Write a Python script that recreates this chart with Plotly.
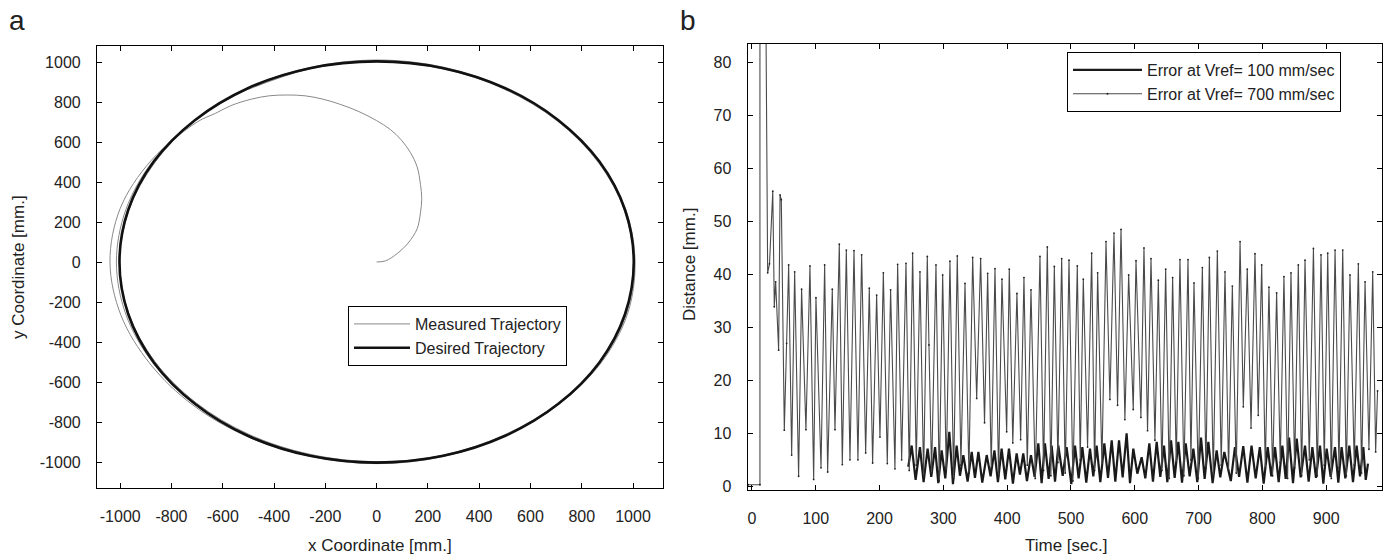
import plotly.graph_objects as go

# ---------------- Panel a data (mm) ----------------
desired_x = [1003, 969, 869, 709, 502, 260, 0, -260, -502, -709, -869, -969, -1003,
             -969, -869, -709, -502, -260, 0, 260, 502, 709, 869, 969, 1003]
desired_y = [0, 260, 502, 709, 869, 969, 1003, 969, 869, 709, 502, 260, 0,
             -260, -502, -709, -869, -969, -1003, -969, -869, -709, -502, -260, 0]

measured_x = [0, 35, 80, 123, 158, 171, 176, 171, 158, 132, 97, 53, 0, -69, -139, -209, -279, -349,
              -419, -489, -568, -629, -700,
              -879, -1000, -1040, -997, -883, -716, -504, -260, 0, 261, 502, 711, 875, 978, 1008,
              972, 869, 709, 503, 261, 0, -261, -502, -709,
              -873, -978, -1015, -978, -873, -710, -500, -258, 0, 260, 500, 708, 871, 974, 1005,
              969, 866, 706, 500, 260, 0, -260, -500, -707,
              -864, -966, -1002, -966, -864, -704, -498, -258, 0, 259, 499, 707, 869, 970, 1002,
              966, 864, 705, 499, 259, 0, -259, -499]
measured_y = [0, 6, 42, 95, 166, 246, 317, 388, 476, 547, 609, 663, 707, 752, 787, 814, 831, 835,
              831, 814, 782, 743, 700,
              508, 268, 0, -267, -510, -716, -873, -971, -1008, -972, -869, -711, -505, -262, 0,
              261, 502, 709, 870, 974, 1010, 972, 869, 709,
              504, 262, 0, -262, -504, -710, -866, -964, -1000, -968, -866, -708, -503, -261, 0,
              260, 500, 706, 866, 969, 1005, 968, 866, 707,
              499, 259, 0, -259, -499, -704, -862, -962, -998, -966, -864, -707, -502, -260, 0,
              259, 499, 705, 864, 966, 1002, 966, 864]

a_ticks = [-1000, -800, -600, -400, -200, 0, 200, 400, 600, 800, 1000]
a_ticktext = ["-1000", "-800", "-600", "-400", "-200", "0", "200", "400", "600", "800", "1000"]

# ---------------- Panel b data ----------------
t700 = [-6, 12.5, 12.5, 21.5, 24.6, 27.5, 32.6, 35, 37.1, 41.8, 44, 46, 50.7, 54.3, 57.5, 62.2, 66.9,
        73.1, 77.8, 84.6, 90.9, 96.7, 100.3, 108.2, 113.9, 118.6, 125.9, 130.1, 136.9, 141.6, 147.9,
        153.6, 159.9, 166.1, 171.9, 178.2, 183.9, 189.1, 195.4, 200.6, 205.9, 212.1, 217.3, 224.1,
        228.3, 234.6, 241.4, 246.5, 251.8, 257.5, 263.3, 269, 274.8, 277.4, 281.5, 288.4, 293.5,
        298.9, 304.5, 310.3, 316, 321.8, 327.5, 333.9, 340, 345.9, 352.2, 358.4, 364.5, 369.4, 375,
        380.9, 386.5, 391.8, 399.2, 403.3, 408.8, 415.3, 421.1, 426.3, 431.5, 437.3, 444, 451.4, 457,
        462.9, 468.5, 473.9, 479.5, 485.4, 491, 496.9, 503, 509.9, 514.5, 519.3, 526, 532.4, 537,
        541.8, 548.5, 554.9, 561, 567.4, 573, 578.4, 584.5, 590.4, 597.6, 601.9, 609.6, 614.4, 620,
        625.4, 631.6, 636.9, 642.5, 648.4, 654, 659.3, 665, 670.8, 677, 683.4, 688, 692.8, 699.5,
        705.9, 711.5, 716.9, 723, 729.4, 735.5, 741.4, 747, 752.9, 759, 765.0, 770.1, 776.3, 782.2,
        788.4, 793.5, 798.9, 804.5, 810.3, 816, 822.3, 828, 833.8, 839.5, 844.8, 850.5, 856.3, 861.5,
        866.8, 873.5, 880.0, 886, 891.9, 897, 902.4, 908, 913.9, 920, 925.9, 931.5, 937.3, 944, 950.4,
        955.5, 960.9, 967, 972.9, 977.5, 980.5]
v700 = [0.3, 0.3, 95, 95, 40.3, 42, 55.7, 33.9, 38.6, 25.7, 55, 54.1, 10.6, 27, 41.8, 5.9, 40.5,
        1.9, 37.2, 10.7, 41.6, 1.3, 35.6, 3.5, 41.8, 2.7, 37.2, 10.7, 45.7, 4.1, 44.6,
        5.0, 44.5, 5.0, 43.7, 6.3, 37.4, 4.4, 36.1, 9.3, 40.3, 4.3, 37.1, 3.3,
        41.9, 5.0, 42.1, 3.0, 44.0, 4.0, 40.5, 2.0, 43.4, 26.7, 2.5, 41.8, 1.0,
        39.9, 3.0, 42.5, 1.5, 43.5, 4.0, 38.3, 2.5, 43.2, 16.6, 43.0, 12.0, 40.2, 3.5,
        41.1, 2.0, 39.1, 10.3, 41.0, 8.2, 36.4, 8.8, 39.4, 4.0, 37.1, 1.5, 43.4, 3.0,
        45.2, 2.0, 41.5, 4.5, 43.0, 2.5, 42.7, 1.0, 41.6, 5.0, 39.1, 7.4, 44.0, 3.0,
        40.3, 4.0, 46.2, 16.4, 47.8, 15.3, 48.5, 12.6, 39.9, 14.5, 42.6, 13.0, 45.0, 10.5,
        43.0, 8.7, 38.9, 3.0, 41.0, 1.5, 39.4, 4.5, 42.8, 2.0, 42.8, 5.0, 38.4, 1.5,
        41.3, 3.5, 43.2, 2.0, 44.4, 4.0, 40.5, 3.0, 37.8, 2.5, 46.2, 15.0, 41.0, 11.0,
        43.9, 13.4, 41.8, 3.5, 37.6, 2.0, 36.5, 4.5, 39.6, 1.5, 40.3, 3.5, 41.8, 2.0,
        42.7, 5.0, 44.9, 2.0, 43.7, 4.0, 44.0, 1.5, 44.6, 3.5, 44.6, 2.0, 39.9, 4.0, 42.0,
        2.5, 38.6, 7.0, 40.5, 6.5, 18.0]

t100 = [245, 250.3, 256.5, 263.3, 269, 275.3, 281, 287, 292, 297.3, 303, 309.3, 315, 320.8, 326,
        331.3, 338, 344.4, 349.5, 354.9, 361, 367.9, 374, 380, 385.5, 391.3, 397, 402.8, 409, 414.8,
        420, 425.2, 431, 437.3, 443, 448.8, 454, 459.2, 465, 469.7, 475, 480.1, 487, 493.2, 500.5,
        506.3, 512, 517.8, 524, 529.8, 535, 540.2, 546, 552.3, 558, 563.8, 569.5, 575.3, 581, 587.2,
        592.5, 597.7, 604, 610.8, 616.5, 622.8, 628.5, 634.3, 640, 645.8, 651, 656.8, 662.5, 668.3,
        674, 679.8, 686, 691.8, 698, 703.8, 709.5, 715.3, 722, 728.3, 734, 740.3, 750.5, 757, 763.5,
        770, 776.5, 783, 789.5, 796, 802, 808.3, 814, 819.8, 825.5, 831.3, 836.5, 841.8, 848, 853.8,
        860, 866.8, 872.5, 878.3, 884, 890.3, 895.5, 900.7, 907, 913.8, 919, 924.2, 930, 936.2, 942,
        947.7, 953, 958.2, 962, 965.5]
v100 = [3.7, 7.7, 1.2, 7.4, 0.8, 7.1, 1.8, 7.4, 0.6, 6.8, 1.5, 10.3, 0.4, 7.7, 2.0,
        5.9, 0.9, 6.5, 1.6, 6.5, 0.7, 5.9, 1.9, 6.8, 0.8, 7.1, 1.3, 7.1, 0.5, 6.2,
        2.2, 6.2, 1.0, 5.9, 1.8, 8.1, 0.6, 8.1, 1.4, 7.7, 0.9, 7.7, 2.0, 7.4, 0.4,
        7.7, 1.5, 7.4, 0.7, 7.1, 1.9, 7.7, 0.8, 8.1, 1.6, 8.7, 0.9, 8.7, 1.7, 10.0,
        0.6, 7.1, 2.4, 5.5, 1.5, 8.1, 0.9, 8.4, 1.8, 7.7, 0.8, 8.7, 1.6, 8.4,
        0.7, 8.1, 1.9, 7.1, 0.8, 9.2, 1.4, 8.4, 0.6, 6.8, 1.7, 6.5, 1.0, 7.4, 1.8,
        7.6, 0.7, 7.7, 1.5, 7.4, 0.5, 7.4, 1.9, 7.4, 0.8, 7.7, 1.4, 9.2, 0.6, 9.0,
        1.7, 7.7, 0.9, 7.4, 1.6, 7.7, 0.5, 7.1, 1.8, 7.4, 0.7, 7.4, 1.5, 7.7, 0.8,
        7.7, 1.9, 7.4, 1.2, 4.3]

b_xticks = [0, 100, 200, 300, 400, 500, 600, 700, 800, 900]
b_yticks = [0, 10, 20, 30, 40, 50, 60, 70, 80]

FONT = "Liberation Sans, Arial, sans-serif"
W, H = 1392, 559

fig = go.Figure()

fig.add_trace(go.Scatter(x=measured_x, y=measured_y, mode="lines", name="Measured Trajectory",
                         line=dict(color="#8a8a8a", width=1, shape="spline"),
                         xaxis="x", yaxis="y", legend="legend"))
fig.add_trace(go.Scatter(x=desired_x, y=desired_y, mode="lines", name="Desired Trajectory",
                         line=dict(color="#111111", width=2.6, shape="spline"),
                         xaxis="x", yaxis="y", legend="legend"))

fig.add_trace(go.Scatter(x=t100, y=v100, mode="lines", name="Error at Vref= 100 mm/sec",
                         line=dict(color="#1a1a1a", width=2.2),
                         xaxis="x2", yaxis="y2", legend="legend2"))
fig.add_trace(go.Scatter(x=t700, y=v700, mode="lines+markers", name="Error at Vref= 700 mm/sec",
                         line=dict(color="#4a4a4a", width=1.1),
                         marker=dict(size=1.8, color="#222222"),
                         xaxis="x2", yaxis="y2", legend="legend2"))

axis_common = dict(showline=True, linecolor="black", linewidth=1, mirror="ticks",
                   ticks="inside", ticklen=5, tickcolor="black", tickwidth=1,
                   showgrid=False, zeroline=False, automargin=False,
                   tickfont=dict(family=FONT, size=16, color="#222222"))

fig.update_layout(
    template="none",
    width=W, height=H, margin=dict(l=0, r=0, t=0, b=0, autoexpand=False),
    paper_bgcolor="white", plot_bgcolor="white",
    font=dict(family=FONT, color="#222222"),
    xaxis=dict(domain=[96.9 / W, 663 / W], range=[-1091, 1117], anchor="y",
               tickmode="array", tickvals=a_ticks, ticktext=a_ticktext,
               ticklabelstandoff=14, **axis_common),
    yaxis=dict(domain=[(H - 488) / H, (H - 46) / H], range=[-1130, 1080], anchor="x",
               tickmode="array", tickvals=a_ticks, ticktext=a_ticktext,
               ticklabelstandoff=12, **axis_common),
    xaxis2=dict(domain=[747.5 / W, 1381.7 / W], range=[-7, 987], anchor="y2",
                tickmode="array", tickvals=b_xticks,
                ticklabelstandoff=14, **axis_common),
    yaxis2=dict(domain=[(H - 489.5) / H, (H - 44) / H], range=[-0.6, 83.5], anchor="x2",
                tickmode="array", tickvals=b_yticks,
                ticklabelstandoff=12, **axis_common),
    legend=dict(x=348 / W, y=(H - 306) / H, xanchor="left", yanchor="top",
                bgcolor="white", bordercolor="black", borderwidth=1, itemwidth=56,
                font=dict(family=FONT, size=16, color="#222222"), tracegroupgap=0),
    legend2=dict(x=1067 / W, y=(H - 52) / H, xanchor="left", yanchor="top",
                 bgcolor="white", bordercolor="black", borderwidth=1, itemwidth=69,
                 font=dict(family=FONT, size=16, color="#222222")),
    showlegend=True,
)

annots = [
    dict(text="a", x=17 / W, y=(H - 20) / H, font=dict(size=28)),
    dict(text="b", x=688 / W, y=(H - 20) / H, font=dict(size=28)),
    dict(text="x Coordinate [mm.]", x=380 / W, y=(H - 545) / H, font=dict(size=17)),
    dict(text="Time [sec.]", x=1066 / W, y=(H - 545) / H, font=dict(size=17)),
    dict(text="y Coordinate [mm.]", x=18 / W, y=(H - 267) / H, font=dict(size=17), textangle=-90),
    dict(text="Distance [mm.]", x=689 / W, y=(H - 265) / H, font=dict(size=17), textangle=-90),
]
for a in annots:
    a.update(xref="paper", yref="paper", showarrow=False, xanchor="center", yanchor="middle")
    a["font"].update(family=FONT, color="#222222")
    fig.add_annotation(**a)

fig.write_html("out.html", config={"displayModeBar": False},
               post_script="document.body.style.margin='0';document.body.style.overflow='hidden';")
